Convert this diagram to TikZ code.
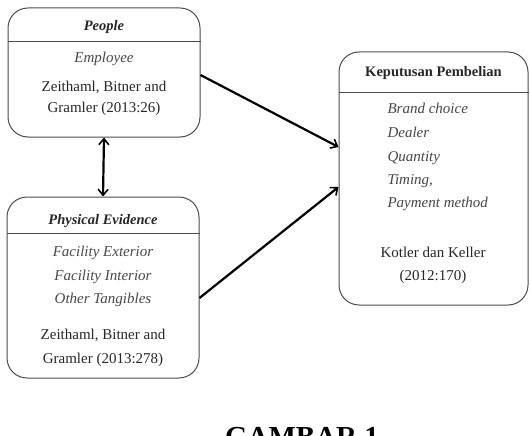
\documentclass[tikz,border=0pt]{standalone}
\usepackage{fontspec}
\setmainfont{Liberation Serif}
\usetikzlibrary{arrows.meta,calc}
\begin{document}
\begin{tikzpicture}[x=1pt,y=-1pt,
  box/.style={draw=black!70,line width=1pt,rounded corners=20pt,minimum width=#1,inner sep=0pt},
  hdr/.style={font=\fontsize{14.5}{16}\selectfont\bfseries\itshape,text=black!85},
  itm/.style={font=\fontsize{15}{17}\selectfont\itshape,text=black!72,anchor=base},
  ref/.style={font=\fontsize{15}{17}\selectfont,text=black!85,anchor=base},
  conn/.style={line width=2.2pt,-{Straight Barb[length=6pt,width=10pt,line width=1.6pt]}},
  dconn/.style={line width=2.2pt,{Straight Barb[length=6pt,width=10pt,line width=1.6pt]}-{Straight Barb[length=6pt,width=10pt,line width=1.6pt]}}]
\useasboundingbox (0,0) rectangle (530,436);
\clip (0,0) rectangle (530,436);
% boxes
\node[box=192pt,minimum height=129pt] (people) at (104,72.5) {};
\node[box=192pt,minimum height=181pt] (pe) at (103,287.5) {};
\node[box=189pt,minimum height=253pt] (kp) at (433.5,178.5) {};
% header lines
\draw[black!70,line width=1pt] (people.west |- 0,42) -- (people.east |- 0,42);
\draw[black!70,line width=1pt] (pe.west |- 0,233) -- (pe.east |- 0,233);
\draw[black!70,line width=1pt] (kp.west |- 0,92) -- (kp.east |- 0,92);
% people text
\node[hdr,anchor=base] (t1) at (104,31) {People};
\node[itm] (t2) at (104,63) {Employee};
\node[ref] (t3) at (104,92) {Zeithaml, Bitner and};
\node[ref] (t4) at (104,112) {Gramler (2013:26)};
% physical evidence
\node[hdr,anchor=base] (p1) at (103,224) {Physical Evidence};
\node[itm] (p2) at (103,256) {Facility Exterior};
\node[itm] (p3) at (103,280) {Facility Interior};
\node[itm] (p4) at (103,303) {Other Tangibles};
\node[ref] (p5) at (103,339) {Zeithaml, Bitner and};
\node[ref] (p6) at (103,363) {Gramler (2013:278)};
% keputusan
\node[font=\fontsize{14.5}{16}\selectfont\bfseries,text=black!85,anchor=base] (k0) at (433.5,77) {Keputusan Pembelian};
\node[itm,anchor=base west] (k1) at (384,113) {Brand choice};
\node[itm,anchor=base west] (k2) at (384,137) {Dealer};
\node[itm,anchor=base west] (k3) at (384,161) {Quantity};
\node[itm,anchor=base west] (k4) at (384,184) {Timing,};
\node[itm,anchor=base west] (k5) at (384,207) {Payment method};
\node[ref] (k6) at (433,257) {Kotler dan Keller};
\node[ref] (k7) at (433,280) {(2012:170)};
% caption
\node[font=\fontsize{29}{32}\selectfont\bfseries,anchor=base] (cap) at (302,446) {GAMBAR 1};
% connectors
\coordinate (a1) at (kp.west |- 0,147);
\coordinate (a2) at (kp.west |- 0,187);
\coordinate (s2) at (pe.east |- 0,298);
\coordinate (s1) at (people.east |- 0,75);
\draw[conn] (s1) -- (a1);
\draw[conn] (s2) -- (a2);
\draw[dconn] (people.south) -- (pe.north);
\end{tikzpicture}
\end{document}
